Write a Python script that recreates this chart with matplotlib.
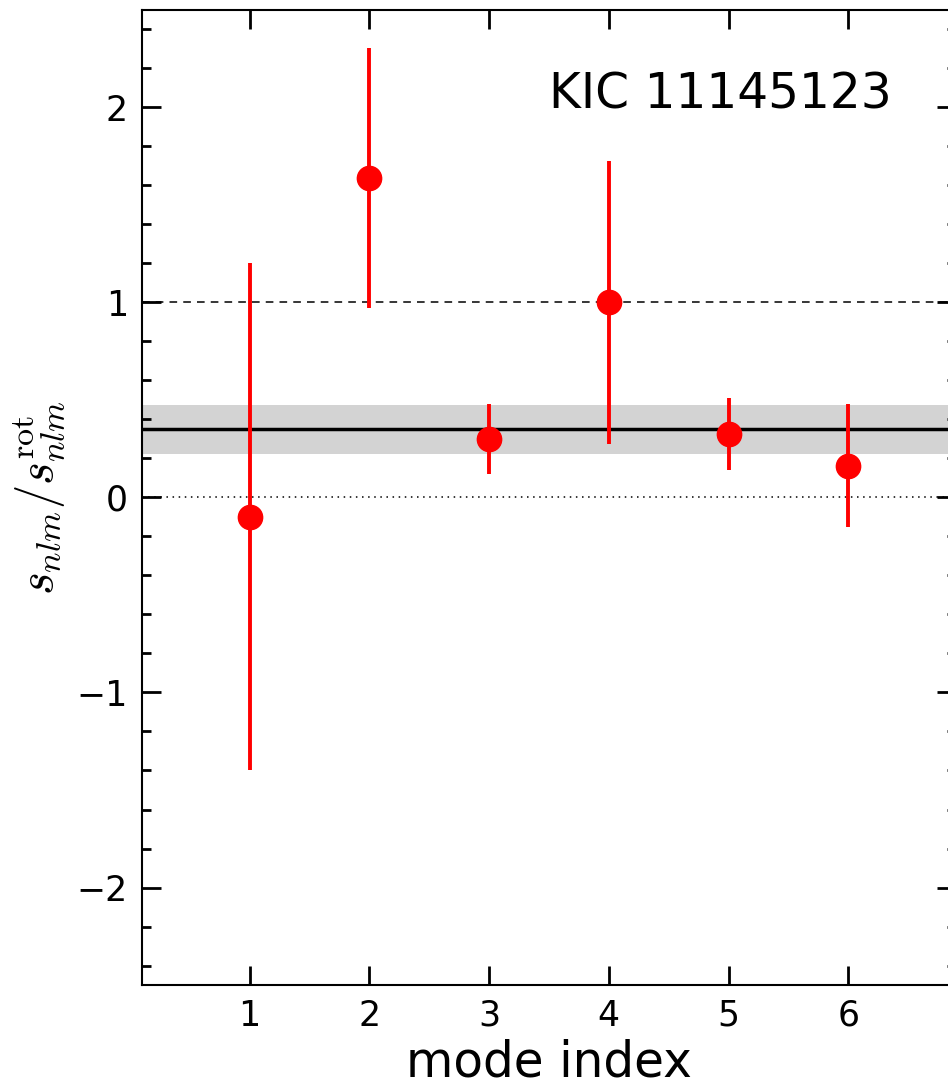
import matplotlib
matplotlib.use("Agg")
import matplotlib.pyplot as plt
from matplotlib.ticker import MultipleLocator

plt.rcParams['mathtext.fontset'] = 'cm'

mode_index = [1, 2, 3, 4, 5, 6]
ratio = [-0.10, 1.64, 0.30, 1.00, 0.325, 0.163]
ratio_err = [1.30, 0.667, 0.18, 0.727, 0.185, 0.315]
mean_ratio = 0.35
mean_err = 0.125
title_text = "KIC 11145123"

fig = plt.figure(figsize=(9.48, 10.86), dpi=100)
ax = fig.add_axes([0.1498, 0.093, 0.8586, 0.8978])

ax.axhspan(mean_ratio - mean_err, mean_ratio + mean_err, color='lightgray', lw=0, zorder=1)
ax.axhline(mean_ratio, color='black', lw=2.5, zorder=2)
ax.axhline(1.0, color='black', lw=1.1, ls=(0, (5, 4)), zorder=2)
ax.axhline(0.0, color='black', lw=1.1, ls=(0, (1, 3)), zorder=2)

ax.errorbar(mode_index, ratio, yerr=ratio_err, fmt='o', color='red', ms=17.5,
            elinewidth=2.8, capsize=0, zorder=3)

ax.set_xlim(0.1, 6.9)
ax.set_ylim(-2.5, 2.5)
ax.set_xticks(mode_index)
ax.yaxis.set_major_locator(MultipleLocator(1))
ax.yaxis.set_minor_locator(MultipleLocator(0.2))

ax.tick_params(axis='both', which='major', direction='in', length=13.5, width=2,
               labelsize=25, top=True, right=True, pad=10)
ax.tick_params(axis='y', which='minor', direction='in', length=6.5, width=2,
               right=True, left=True)
for s in ax.spines.values():
    s.set_linewidth(1.5)

ax.set_xlabel('mode index', fontsize=35, labelpad=4)
ax.set_ylabel(r'$s_{nlm}/s_{nlm}^{\rm rot}$', fontsize=35, labelpad=6)
ax.text(0.921, 0.913, title_text, transform=ax.transAxes, fontsize=35,
        ha='right', va='center')

fig.savefig('out.png', dpi=100)
